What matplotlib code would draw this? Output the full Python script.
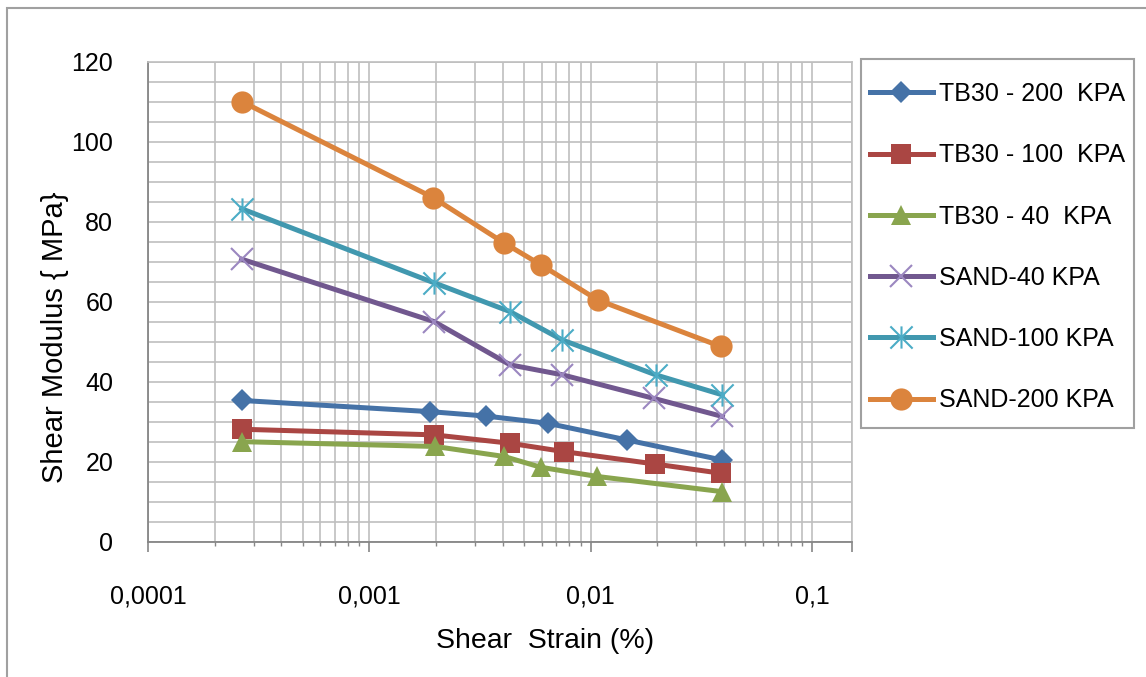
import matplotlib
matplotlib.use("Agg")
import matplotlib.pyplot as plt
from matplotlib.path import Path
from matplotlib.patches import Rectangle
import numpy as np

plt.rcParams['font.family'] = ['Liberation Sans', 'DejaVu Sans']

# ---- data ----
strain_tb200 = [2.65e-4, 1.88e-3, 3.36e-3, 6.38e-3, 0.01465, 0.0393]
g_tb200 = [35.3, 32.5, 31.4, 29.6, 25.4, 20.4]

strain_tb100 = [2.65e-4, 1.96e-3, 4.32e-3, 7.59e-3, 0.0196, 0.0388]
g_tb100 = [28.1, 26.7, 24.6, 22.5, 19.4, 17.1]

strain_tb40 = [2.65e-4, 1.98e-3, 4.06e-3, 5.95e-3, 0.0107, 0.0393]
g_tb40 = [25.0, 23.8, 21.3, 18.6, 16.3, 12.5]

strain_s40 = [2.65e-4, 1.96e-3, 4.32e-3, 7.45e-3, 0.0193, 0.0393]
g_s40 = [70.6, 55.0, 44.2, 41.7, 35.8, 31.3]

strain_s100 = [2.65e-4, 1.96e-3, 4.32e-3, 7.45e-3, 0.01965, 0.0393]
g_s100 = [83.2, 64.7, 57.5, 50.4, 41.7, 36.7]

strain_s200 = [2.65e-4, 1.94e-3, 4.05e-3, 5.95e-3, 0.01076, 0.0386]
g_s200 = [110.0, 86.0, 74.7, 69.2, 60.4, 48.8]

labels = ['TB30 - 200  KPA', 'TB30 - 100  KPA', 'TB30 - 40  KPA',
          'SAND-40 KPA', 'SAND-100 KPA', 'SAND-200 KPA']
x_ticks = [1e-4, 1e-3, 1e-2, 1e-1]
x_ticklabels = ['0,0001', '0,001', '0,01', '0,1']
y_ticks = [0, 20, 40, 60, 80, 100, 120]

# ---- figure ----
W, H = 1146, 677
fig = plt.figure(figsize=(W / 100, H / 100), dpi=100)
ax = fig.add_axes([148 / W, 1 - 541.7 / H, (851.7 - 148) / W, (541.7 - 61.5) / H])

# asterisk marker: X plus vertical bar
ast_path = Path([(0, -1), (0, 1), (-1, -1), (1, 1), (-1, 1), (1, -1)],
                [Path.MOVETO, Path.LINETO, Path.MOVETO, Path.LINETO, Path.MOVETO, Path.LINETO])

lw = 3.6
series = [
    (strain_tb200, g_tb200, dict(color='#4572A7', marker='D', ms=11.5, mec='#4572A7', mew=0)),
    (strain_tb100, g_tb100, dict(color='#AA4643', marker='s', ms=15, mec='#AA4643', mew=0)),
    (strain_tb40, g_tb40, dict(color='#89A54E', marker='^', ms=15, mec='#89A54E', mew=0)),
    (strain_s40, g_s40, dict(color='#71588F', marker='x', ms=16, mec='#9B87C0', mew=1.5)),
    (strain_s100, g_s100, dict(color='#4198AF', marker=ast_path, ms=16, mec='#4BACC6', mew=1.5,
                               fillstyle='none')),
    (strain_s200, g_s200, dict(color='#DB843D', marker='o', ms=16, mec='#DB843D', mew=0)),
]
for (xs, ys, kw), lab in zip(series, labels):
    ax.plot(xs, ys, lw=lw, label=lab, solid_joinstyle='round', **kw)

ax.set_xscale('log')
ax.set_xlim(1e-4, 0.151)
ax.set_ylim(0, 120)

ax.set_xticks(x_ticks + [0.151])
ax.set_xticklabels(x_ticklabels + [''])
minor = [k * 10.0 ** d for d in range(-4, -1) for k in range(2, 10)]
ax.set_xticks(minor, minor=True)
ax.xaxis.set_minor_formatter(matplotlib.ticker.NullFormatter())
ax.set_yticks(y_ticks)
ax.set_yticks(np.arange(0, 121, 5), minor=True)

ax.tick_params(axis='x', which='major', length=7, width=1.2, color='#868686',
               direction='out', pad=24, labelsize=18)
ax.tick_params(axis='x', which='minor', length=3, width=1.0, color='#868686', direction='out')
ax.tick_params(axis='y', which='both', length=0, pad=25, labelsize=18)

grid_c = '#BFBFBF'
ax.grid(True, which='both', axis='both', color=grid_c, lw=1.2)
ax.set_axisbelow(True)
for s in ['top', 'right']:
    ax.spines[s].set_color(grid_c)
    ax.spines[s].set_linewidth(1.2)
for s in ['left', 'bottom']:
    ax.spines[s].set_color('#868686')
    ax.spines[s].set_linewidth(1.3)

fig.text(545 / W, 1 - 641 / H, 'Shear  Strain (%)', ha='center', va='center', fontsize=20.5)
fig.text(55 / W, 1 - 337 / H, 'Shear Modulus { MPa}', ha='center', va='center',
         rotation=90, fontsize=21)

# legend
fig.add_artist(Rectangle((861 / W, 1 - 428 / H), (1134 - 861) / W, (428 - 59) / H,
                         transform=fig.transFigure, fill=False, edgecolor='#A0A0A0', lw=1.5))
leg = ax.legend(loc='upper left', bbox_to_anchor=(870 / W, 1 - 82 / H),
                bbox_transform=fig.transFigure, frameon=False, fontsize=18,
                handlelength=2.5, handletextpad=0.25, labelspacing=1.49,
                borderpad=0, borderaxespad=0, numpoints=1, markerscale=1.0)

# outer chart frame (right/bottom edges lie outside the image)
fig.add_artist(Rectangle((7 / W, -0.1), 1.2, 1 - 8 / H + 0.1, transform=fig.transFigure,
                         fill=False, edgecolor='#A0A0A0', lw=1.5, clip_on=False))

fig.savefig('out.png', dpi=100)
